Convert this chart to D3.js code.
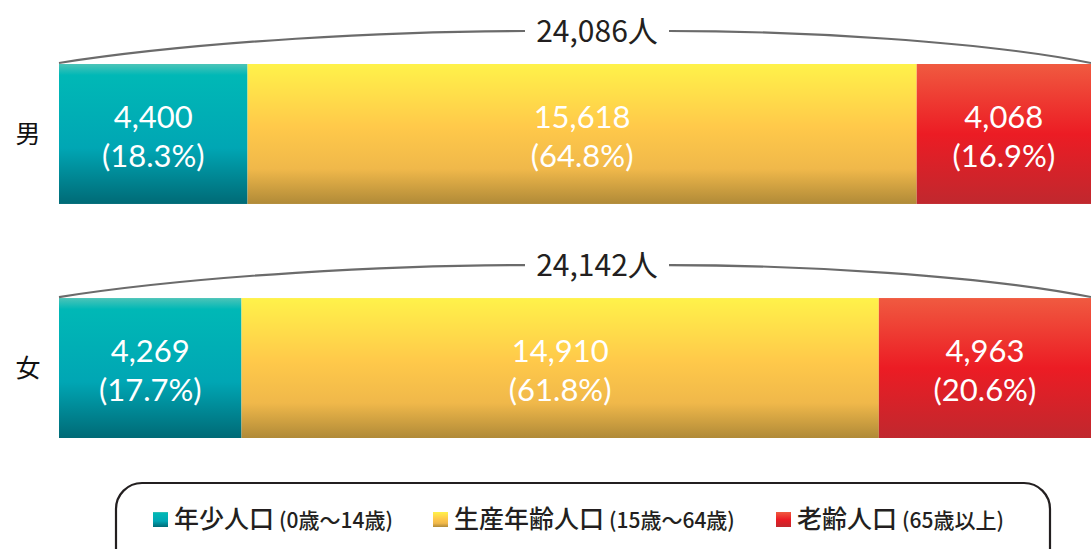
<!DOCTYPE html>
<html>
<head>
<meta charset="utf-8">
<script src="https://cdn.jsdelivr.net/npm/d3@7"></script>
<style>
  body { margin: 0; background: #fff; }
  text { font-family: "Noto Sans CJK JP", "Noto Sans", sans-serif; }
  .num { font-family: Lato, "Noto Sans", sans-serif; }
</style>
</head>
<body>
<svg id="chart" width="1091" height="549"></svg>
<script>
// data
var genders = ["男", "女"];
var groups = ["年少人口", "生産年齢人口", "老齢人口"];
var groupAges = ["(0歳～14歳)", "(15歳～64歳)", "(65歳以上)"];
var maleValues = [4400, 15618, 4068];
var femaleValues = [4269, 14910, 4963];
var malePct = ["18.3%", "64.8%", "16.9%"];
var femalePct = ["17.7%", "61.8%", "20.6%"];
var totals = ["24,086人", "24,142人"];

var svg = d3.select("#chart");
var defs = svg.append("defs");

var grads = [
  [["0", "#4cc4b8"], ["0.08", "#00b8b6"], ["0.6", "#00a6b4"], ["1", "#006a76"]],
  [["0", "#fff24a"], ["0.45", "#ffc94a"], ["0.75", "#f0b84a"], ["1", "#b08a38"]],
  [["0", "#f05a40"], ["0.5", "#ec1c24"], ["1", "#c0282e"]]
];
grads.forEach(function(stops, i) {
  var g = defs.append("linearGradient").attr("id", "g" + i)
    .attr("x1", 0).attr("y1", 0).attr("x2", 0).attr("y2", 1);
  stops.forEach(function(s) {
    g.append("stop").attr("offset", s[0]).attr("stop-color", s[1]);
  });
});

var y = d3.scaleBand().domain(genders).range([64, 438]).paddingInner(0.402);
var rows = [
  { name: "男", values: maleValues, pct: malePct, total: totals[0] },
  { name: "女", values: femaleValues, pct: femalePct, total: totals[1] }
];

var left = 59, right = 1091;

rows.forEach(function(r) {
  var sum = d3.sum(r.values);
  var x = d3.scaleLinear().domain([0, sum]).range([left, right]);
  var y0 = y(r.name), bh = y.bandwidth();
  var acc = 0;
  var g = svg.append("g");

  r.values.forEach(function(v, i) {
    var x0 = x(acc), x1 = x(acc + v);
    acc += v;
    g.append("rect")
      .attr("x", x0).attr("y", y0)
      .attr("width", x1 - x0).attr("height", bh)
      .attr("fill", "url(#g" + i + ")");
    var cx = (x0 + x1) / 2;
    g.append("text").attr("class", "num")
      .attr("x", cx).attr("y", y0 + bh / 2 - 6)
      .attr("text-anchor", "middle")
      .attr("fill", "#fff").attr("font-size", 31)
      .text(d3.format(",")(v));
    g.append("text").attr("class", "num")
      .attr("x", cx).attr("y", y0 + bh / 2 + 33)
      .attr("text-anchor", "middle")
      .attr("fill", "#fff").attr("font-size", 31)
      .text("(" + r.pct[i] + ")");
  });

  // category label
  svg.append("text")
    .attr("x", 28).attr("y", y0 + bh / 2 + 9)
    .attr("text-anchor", "middle")
    .attr("font-size", 25).attr("fill", "#111")
    .text(r.name);

  // brace line with total
  var ty = y0 - 33;
  var mid = (left + right) / 2 + 22;
  var gapL = mid - 72, gapR = mid + 72;
  svg.append("path")
    .attr("d", "M" + left + "," + (y0 - 1) +
      " C" + (left + 140) + "," + (ty + 10) + " " + (gapL - 130) + "," + ty + " " + gapL + "," + ty)
    .attr("fill", "none").attr("stroke", "#6b6b6b").attr("stroke-width", 2.2);
  svg.append("path")
    .attr("d", "M" + gapR + "," + ty +
      " C" + (gapR + 130) + "," + ty + " " + (right - 110) + "," + (ty + 10) + " " + right + "," + (y0 - 1))
    .attr("fill", "none").attr("stroke", "#6b6b6b").attr("stroke-width", 2.2);
  svg.append("text")
    .attr("x", mid).attr("y", ty + 11)
    .attr("text-anchor", "middle")
    .attr("font-size", 30).attr("fill", "#231f20")
    .text(r.total);
});

// legend
svg.append("rect")
  .attr("x", 116).attr("y", 483)
  .attr("width", 934).attr("height", 100)
  .attr("rx", 26).attr("ry", 26)
  .attr("fill", "none").attr("stroke", "#231f20").attr("stroke-width", 2.2);

var legendX = [153, 433, 776];
groups.forEach(function(name, i) {
  var lg = svg.append("g").attr("transform", "translate(" + legendX[i] + ",512)");
  lg.append("rect").attr("width", 15).attr("height", 15).attr("fill", "url(#g" + i + ")");
  var t = lg.append("text").attr("x", 21).attr("y", 16).attr("fill", "#231f20")
    .attr("font-weight", 500);
  t.append("tspan").attr("font-size", 25).text(name);
  t.append("tspan").attr("font-size", 21).attr("dx", 5).text(groupAges[i]);
});
</script>
</body>
</html>
